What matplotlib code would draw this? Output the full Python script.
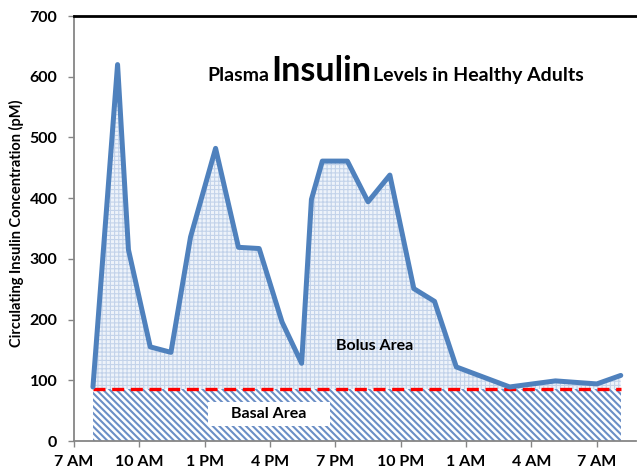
import matplotlib
matplotlib.use("Agg")
import matplotlib.pyplot as plt
from matplotlib.patches import Rectangle
import numpy as np

plt.rcParams['font.family'] = ['Lato', 'DejaVu Sans']

# hours after 7 AM
hours = [0.87, 2.0, 2.5, 3.5, 4.45, 5.35, 6.5, 7.55, 8.5, 9.55, 10.45,
         10.9, 11.4, 12.55, 13.5, 14.5, 15.6, 16.55, 17.55, 20.0, 22.1, 24.0, 25.1]
insulin = [89, 620, 315, 155, 146, 336, 482, 319, 317, 196, 128,
           398, 461, 461, 394, 438, 251, 230, 122, 89, 99, 94, 108]
basal_level = 85
tick_hours = [0, 3, 6, 9, 12, 15, 18, 21, 24]
tick_labels = ['7 AM', '10 AM', '1 PM', '4 PM', '7 PM', '10 PM', '1 AM', '4 AM', '7 AM']
y_ticks = [0, 100, 200, 300, 400, 500, 600, 700]

blue = '#4f81bd'
W = 'bold'

fig = plt.figure(figsize=(6.37, 4.69), dpi=100)
ax = fig.add_axes([74/637, 28/469, (636-74)/637, (441-16)/469])

h = np.array(hours)
v = np.array(insulin)

# bolus area
with plt.rc_context({'hatch.linewidth': 0.8}):
    ax.fill_between(h, basal_level, v, facecolor='#eef3fa', edgecolor='#c3d3ea',
                    hatch='++++', linewidth=0, zorder=1)
# basal area
with plt.rc_context({'hatch.linewidth': 1.5}):
    ax.fill_between([h[0], h[-1]], 0, basal_level, facecolor='white', edgecolor='#6b8fc6',
                    hatch='\\\\\\\\\\', linewidth=0, zorder=1)
# basal line
ax.plot([h[0], h[-1]], [basal_level, basal_level], color='#ff0000', lw=2.4,
        dashes=(3.6, 2.0), zorder=3)
# insulin line
ax.plot(h, v, color=blue, lw=3.6, solid_joinstyle='round', solid_capstyle='round', zorder=4)

ax.add_patch(Rectangle((6.15, 25), 5.6, 39, facecolor='white', edgecolor='none', zorder=2))
ax.text(8.95, 44, 'Basal Area', ha='center', va='center', fontsize=11.5,
        fontweight=W, zorder=5)
ax.text(13.8, 156, 'Bolus Area', ha='center', va='center', fontsize=11.5,
        fontweight=W, zorder=5)

ax.set_xlim(0, 25.8)
ax.set_ylim(0, 700)
ax.set_xticks(tick_hours)
ax.set_xticklabels(tick_labels, fontsize=11.5, fontweight=W)
ax.set_yticks(y_ticks)
ax.set_yticklabels([str(t) for t in y_ticks], fontsize=11.5, fontweight=W)
ax.tick_params(axis='both', direction='out', length=4, width=1, color='#868686', pad=6)
ax.tick_params(axis='y', pad=8)

for s in ['left', 'bottom']:
    ax.spines[s].set_color('#868686')
    ax.spines[s].set_linewidth(1.3)
ax.spines['right'].set_visible(False)
ax.spines['top'].set_color('black')
ax.spines['top'].set_linewidth(2)

ax.set_ylabel('Circulating Insulin Concentration (pM)', fontsize=10.5, fontweight=W)
ax.yaxis.set_label_coords((24 - 74) / 562, (441 - 223) / 425)

# title pieces
base = 1 - 81/469
fig.text(207/637, base, 'Plasma', fontsize=14, fontweight=W, va='baseline', ha='left')
fig.text(271/637, base, 'Insulin', fontsize=24.5, fontweight=W, va='baseline', ha='left')
fig.text(373/637, base, 'Levels in Healthy Adults', fontsize=14, fontweight=W,
         va='baseline', ha='left')

fig.savefig('out.png', dpi=100)
